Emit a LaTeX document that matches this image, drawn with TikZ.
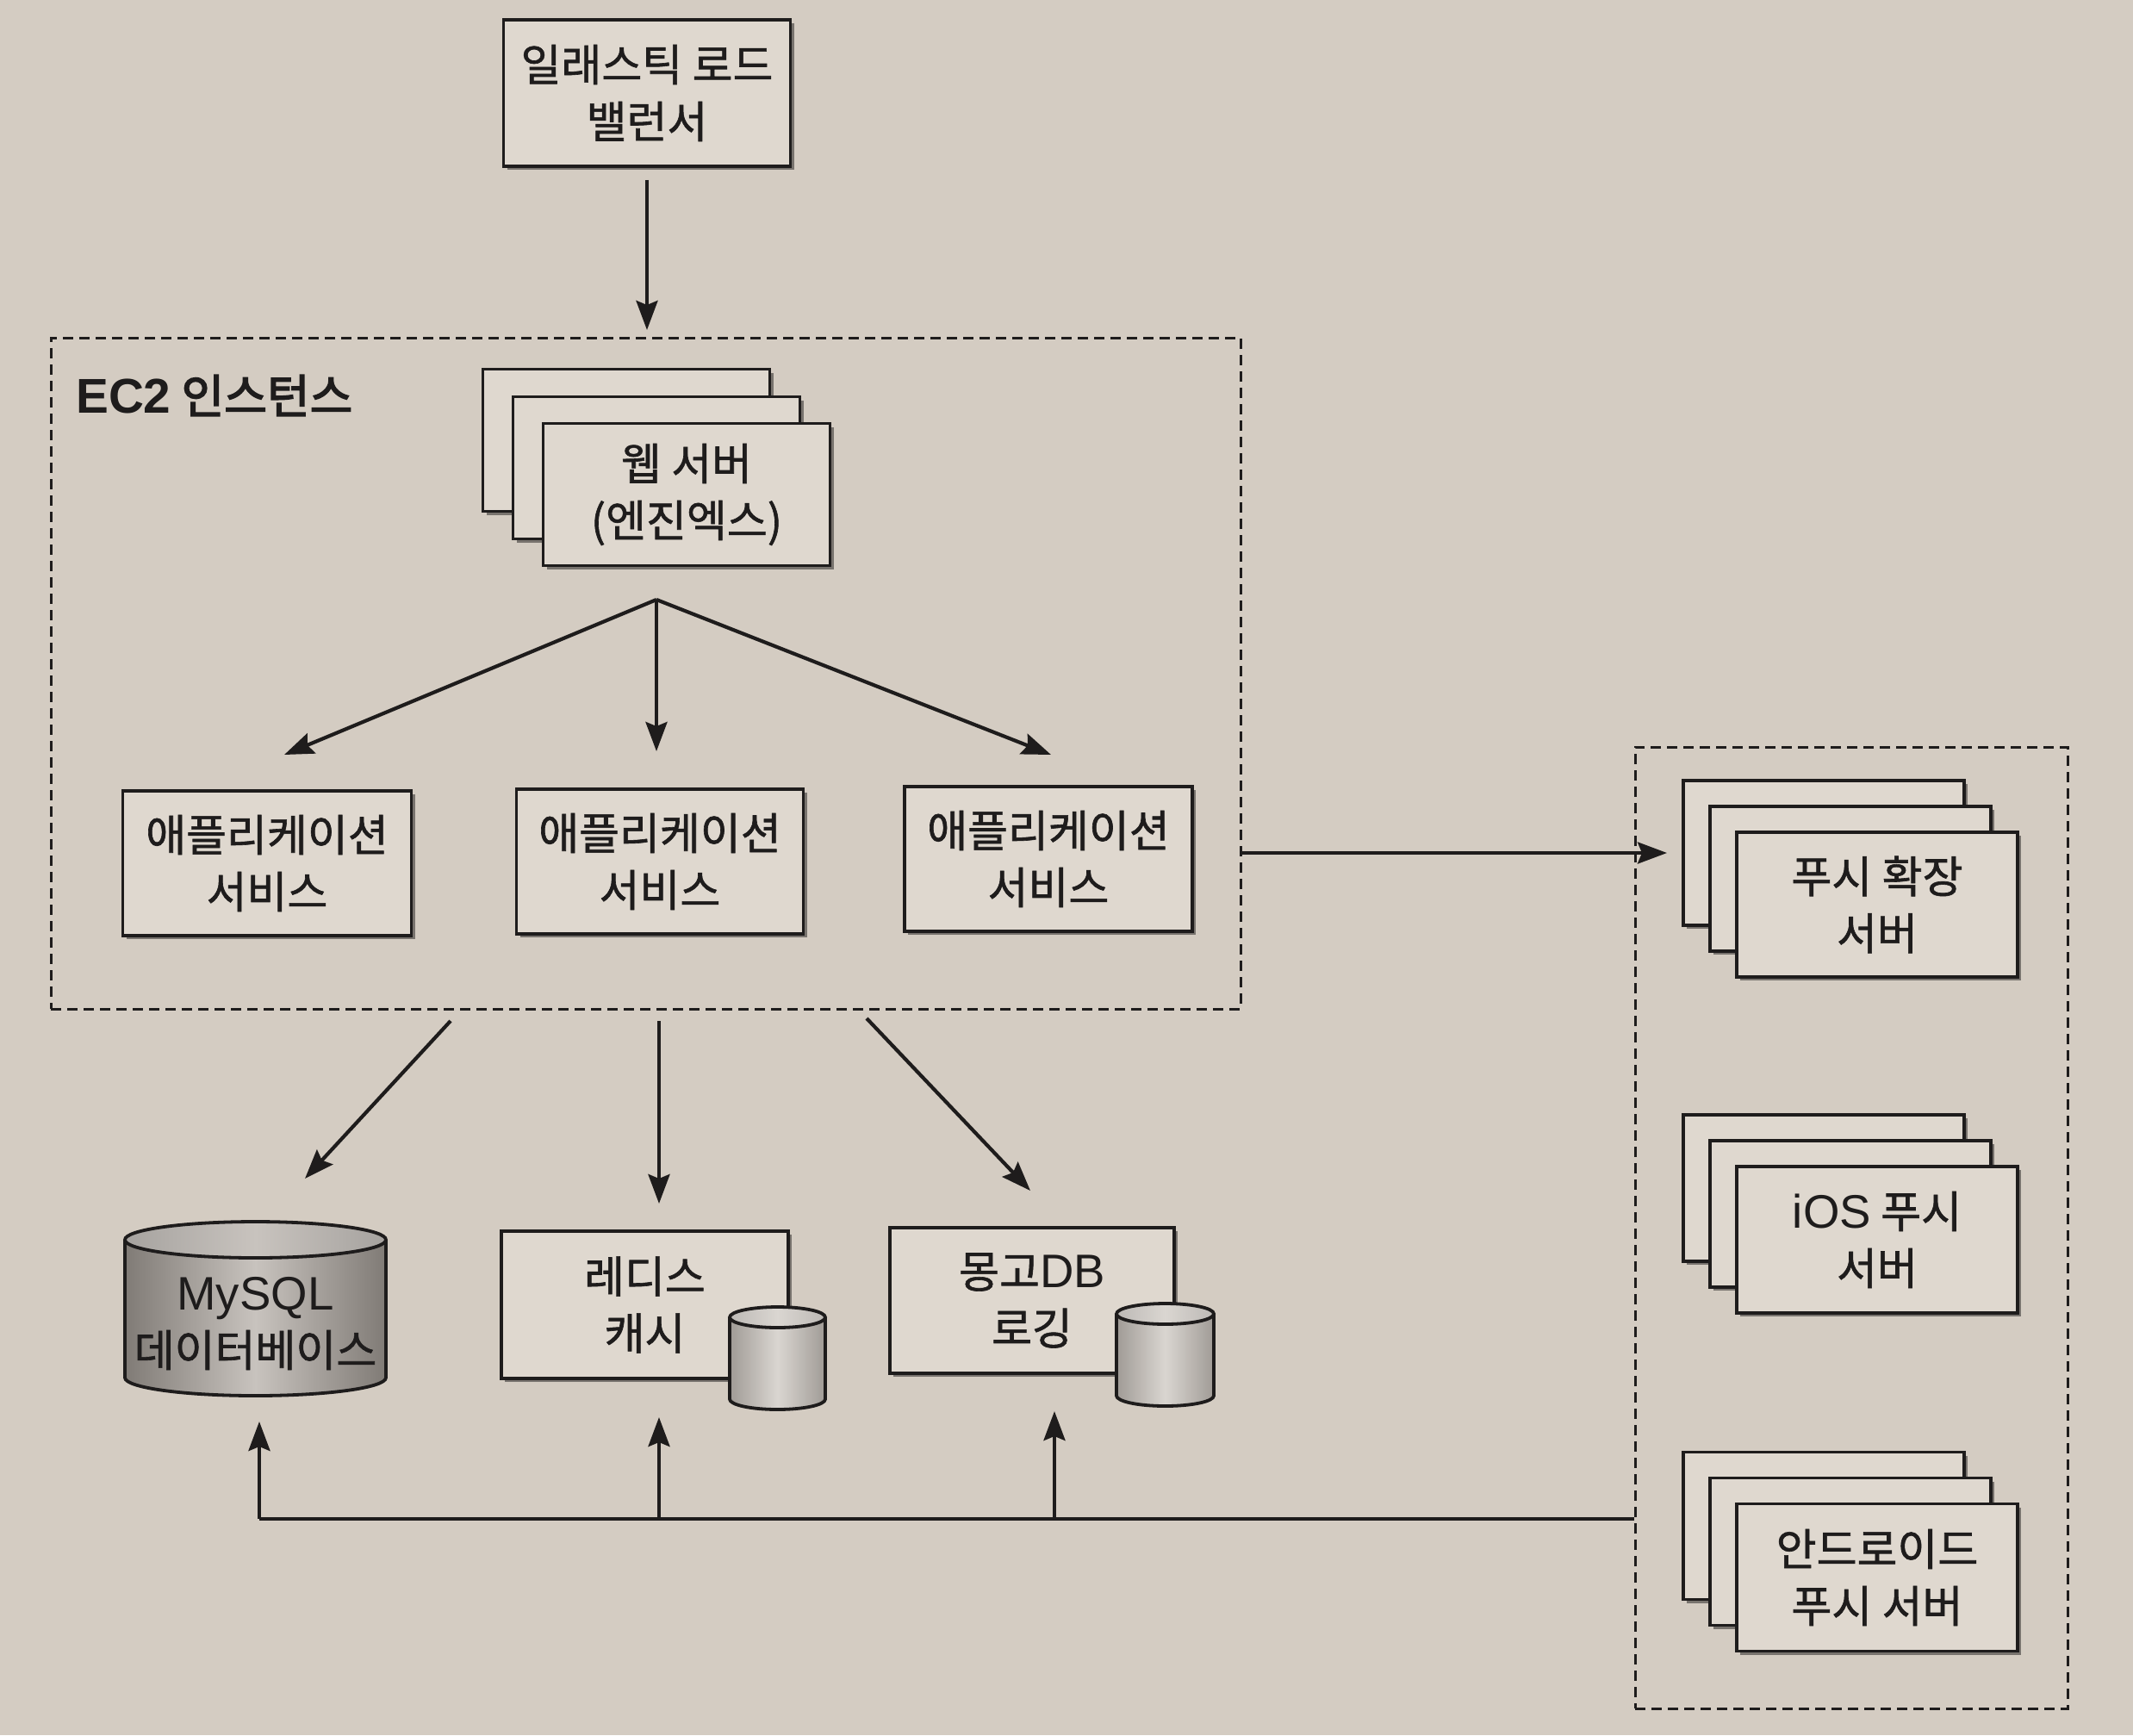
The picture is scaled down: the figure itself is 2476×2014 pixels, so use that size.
\documentclass[tikz,border=0pt]{standalone}
\usepackage{fontspec}
\setmainfont{Noto Sans CJK KR}[FakeBold=1.2]
\newfontfamily\lat{Liberation Sans}[Scale=1.07]
\newfontfamily\latb{Liberation Sans Bold}[Scale=1.05]
\newfontfamily\krb{Noto Sans CJK KR}[FakeBold=3]
\usetikzlibrary{arrows.meta,shadows}
\definecolor{bg}{RGB}{212,204,194}
\definecolor{boxfill}{RGB}{223,216,207}
\definecolor{ink}{RGB}{30,28,28}
\definecolor{cylDark}{RGB}{128,123,118}
\definecolor{cylDarkL}{RGB}{200,195,190}
\definecolor{cylLight}{RGB}{160,155,150}
\definecolor{cylLightL}{RGB}{218,214,209}
\newcommand\dbcyl[7]{%
  \pgfmathsetmacro\myrx{(#2-#1)/2}%
  \pgfmathsetmacro\mycx{(#1+#2)/2}%
  \shade[left color=#6, right color=#6, middle color=#7]
    (#1,#3) -- (#1,#4) arc[start angle=180, end angle=0, x radius=\myrx, y radius=#5] -- (#2,#3) -- cycle;
  \draw[ink, line width=3.8pt]
    (#1,#3) -- (#1,#4) arc[start angle=180, end angle=0, x radius=\myrx, y radius=#5] -- (#2,#3);
  \shade[left color=#6!70!white, right color=#6!70!white, middle color=#7, draw=ink, line width=3.8pt]
    (\mycx,#3) ellipse[x radius=\myrx, y radius=#5];
}
\tikzset{
  box/.style={draw=ink, line width=3.8pt, fill=boxfill, minimum width=333pt,
    minimum height=168pt, inner sep=0pt, align=center,
    font=\fontsize{51}{66}\selectfont, text=ink,
    drop shadow={shadow xshift=4pt, shadow yshift=-4pt, fill=ink, opacity=0.5}},
  grp/.style={draw=ink, line width=3pt, dash pattern=on 12pt off 7pt, inner sep=0pt},
  arr/.style={draw=ink, line width=4.2pt, -{Stealth[length=34pt,width=25pt,inset=5pt]}},
  lbl/.style={font=\fontsize{51}{66}\selectfont, text=ink, align=center, inner sep=0pt},
  bus/.style={draw=ink, line width=4.6pt}
}
\begin{document}
\begin{tikzpicture}[x=1pt,y=-1pt]
\fill[bg] (0,0) rectangle (2476,2014);
\useasboundingbox (0,0) rectangle (2476,2014);

% load balancer
\node[box, minimum height=170pt] (elb) at (751,108) {일래스틱 로드\\밸런서};

% EC2 group
\node[grp, minimum width=1381pt, minimum height=779pt] (ec2) at (749.5,781.5) {};
\node[anchor=west, font=\fontsize{54}{58}\selectfont, text=ink, inner sep=0pt] (ec2lbl) at (88,459) {{\latb EC2} {\krb 인스턴스}};

\coordinate (elbTip) at (751,383);
\draw[arr, shorten <=14pt] (elb) -- (elbTip);

% web servers
\node[box, minimum height=165pt] (web3) at (727,511) {};
\node[box, minimum height=165pt] (web2) at (762,543) {};
\node[box, minimum height=165pt] (web1) at (797,574) {웹 서버\\(엔진엑스)};

% app services
\node[box, minimum width=335pt] (app1) at (310,1002) {애플리케이션\\서비스};
\node[box, minimum width=333pt] (app2) at (766,1000) {애플리케이션\\서비스};
\node[box, minimum width=334pt] (app3) at (1217,997) {애플리케이션\\서비스};

\coordinate (fan) at (762,696);
\coordinate (tL) at (330,876);
\coordinate (tM) at (762,872);
\coordinate (tR) at (1220,876);
\draw[arr] (fan) -- (tL);
\draw[arr] (fan) -- (tM);
\draw[arr] (fan) -- (tR);

% push group
\node[grp, minimum width=502pt, minimum height=1116pt] (push) at (2149,1425) {};

\node[box, minimum width=326pt] (ext3) at (2117,990) {};
\node[box, minimum width=326pt] (ext2) at (2148,1020) {};
\node[box, minimum width=326pt] (ext1) at (2179,1050) {푸시 확장\\서버};

\node[box, minimum width=326pt, minimum height=170pt] (ios3) at (2117,1379) {};
\node[box, minimum width=326pt, minimum height=170pt] (ios2) at (2148,1409) {};
\node[box, minimum width=326pt, minimum height=170pt] (ios1) at (2179,1439) {{\lat iOS} 푸시\\서버};

\node[box, minimum width=326pt, minimum height=171pt] (and3) at (2117,1771) {};
\node[box, minimum width=326pt, minimum height=171pt] (and2) at (2148,1801) {};
\node[box, minimum width=326pt, minimum height=171pt] (and1) at (2179,1831) {안드로이드\\푸시 서버};

\coordinate (pushIn) at (1935,990);
\draw[arr] (pushIn -| ec2.east) -- (pushIn);

% data stores
\node[box, minimum height=171pt] (redis) at (748.5,1514.5) {레디스\\캐시};
\node[box, minimum width=330pt, minimum height=169pt] (mongo) at (1198,1509.5) {몽고{\lat DB}\\로깅};

\dbcyl{145}{448}{1439}{1599}{21}{cylDark}{cylDarkL}
\node[lbl] (mysql) at (296.5,1536) {{\lat MySQL}\\데이터베이스};
\dbcyl{847}{958}{1529}{1624}{12}{cylLight}{cylLightL}
\dbcyl{1296}{1409}{1525}{1620}{12}{cylLight}{cylLightL}

% arrows from EC2 down to stores
\coordinate (d1s) at (523,1185); \coordinate (d1e) at (354,1368);
\coordinate (d2s) at (765,1185); \coordinate (d2e) at (765,1397);
\coordinate (d3s) at (1006,1182); \coordinate (d3e) at (1196,1382);
\draw[arr] (d1s) -- (d1e);
\draw[arr] (d2s) -- (d2e);
\draw[arr] (d3s) -- (d3e);

% bus from push servers
\coordinate (busL) at (301,1763);
\coordinate (busM) at (765,1763);
\coordinate (busR) at (1224,1763);
\coordinate (u1) at (301,1650);
\coordinate (u2) at (765,1645);
\coordinate (u3) at (1224,1638);
\draw[bus] (push.west |- busL) -- (busL);
\draw[arr] (busL) -- (u1);
\draw[arr] (busM) -- (u2);
\draw[arr] (busR) -- (u3);
\end{tikzpicture}
\end{document}
